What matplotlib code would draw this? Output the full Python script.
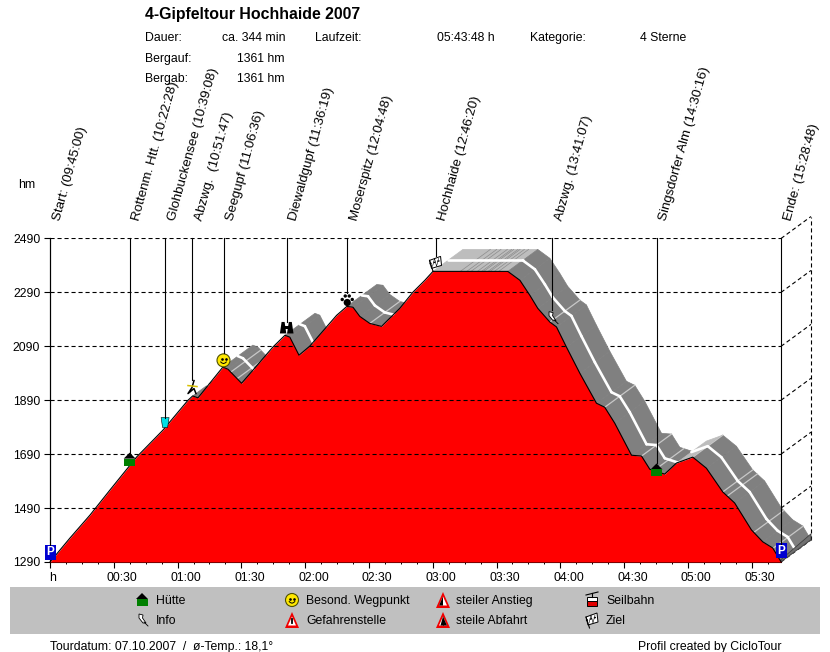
import numpy as np
import matplotlib
matplotlib.use('Agg')
import matplotlib.pyplot as plt
from matplotlib.patches import Polygon, Circle, Rectangle
from matplotlib.transforms import ScaledTranslation

plt.rcParams['font.family'] = ['Liberation Sans', 'DejaVu Sans']

# profile: minutes since start, height in hm
profile_t = [0, 9.4, 18.8, 28.2, 40.8, 53.1, 64.9, 67.1, 69.6, 81.3, 83.7, 90.1, 104.8, 110.5,
             112.8, 117.1, 122.2, 134.8, 139.6, 142.5, 145.7, 150.4, 155.9, 164.5, 170.7, 176.3,
             180.1, 215.3, 221, 225.7, 229.4, 235.1, 238.2, 242.9, 249.2, 257, 260.9, 265.6,
             273.5, 278.2, 282.1, 289.1, 294.6, 302.3, 308.7, 316.4, 322, 329.9, 335.2, 339.9, 343.8]
profile_h = [1290, 1379, 1464, 1557, 1680, 1779, 1890, 1906, 1899, 2013, 2005, 1953, 2087, 2131,
             2124, 2057, 2091, 2205, 2238, 2235, 2201, 2175, 2164, 2231, 2291, 2335,
             2368, 2368, 2335, 2279, 2231, 2180, 2162, 2087, 1990, 1879, 1864, 1805,
             1686, 1683, 1634, 1616, 1657, 1679, 1638, 1550, 1509, 1409, 1365, 1342, 1291]

stations = ['Start: (09:45:00)', 'Rottenm. Htt. (10:22:28)', 'Glohbuckensee (10:39:08)',
            'Abzwg.  (10:51:47)', 'Seegupf (11:06:36)', 'Diewaldgupf (11:36:19)',
            'Moserspitz (12:04:48)', 'Hochhaide (12:46:20)', 'Abzwg. (13:41:07)',
            'Singsdorfer Alm (14:30:16)', 'Ende: (15:28:48)']
station_min = [0, 37.47, 54.13, 66.78, 81.6, 111.32, 139.8, 181.33, 236.12, 285.27, 343.8]
station_icon = ['park', 'hut', 'cup', 'run', 'smile', 'binoc', 'paw', 'flag', 'pin', 'hut', 'park']
icon_lift = [10, 7, 5, 9, 7, 8, 6, 8, 6, 2, 11]

y_ticks = [1290, 1490, 1690, 1890, 2090, 2290, 2490]
x_ticks = list(range(0, 331, 30))
x_labels = ['h', '00:30', '01:00', '01:30', '02:00', '02:30', '03:00', '03:30', '04:00', '04:30', '05:00', '05:30']
cross_t = [85, 88, 150.4, 155.9, 235.1, 260.9, 278.2, 284, 302.3, 316.4, 318.5, 331, 340]
streak_t = [193, 196, 198, 201, 203, 204, 206, 207, 209, 211]

depth_t, depth_h = 14.1, 81.5

t = np.array(profile_t)
h = np.array(profile_h)

fig = plt.figure(figsize=(8.3, 6.52), dpi=100)
ax = fig.add_axes([50/830, 90/652, 731/830, 323.5/652])
ax.set_xlim(0, 343.8)
ax.set_ylim(1290, 2490)
dash = (0, (3.7, 2.6))

ax.set_axisbelow(True)
ax.yaxis.grid(True, color='k', lw=0.8, ls=dash, zorder=1)
for s in ['top', 'right']:
    ax.spines[s].set_visible(False)
ax.spines['left'].set_linewidth(0.8)
ax.spines['bottom'].set_linewidth(0.8)
ax.set_yticks(y_ticks)
ax.set_xticks(x_ticks)
ax.set_xticklabels(x_labels)
ax.set_xticks(np.arange(0, 344, 7.5), minor=True)
ax.tick_params(axis='x', which='major', length=4, width=0.8, labelsize=8.8, pad=3.5)
ax.tick_params(axis='x', which='minor', length=1.5, width=0.7)
ax.tick_params(axis='y', length=4, width=0.8, labelsize=8.8, pad=3)
for lab, shift in zip(ax.get_xticklabels(), [-1] + [-7] * 11):
    lab.set_ha('left')
    lab.set_transform(lab.get_transform() + ScaledTranslation(shift/100, 0, fig.dpi_scale_trans))

# back wall of the 3d box
for y in y_ticks:
    ax.plot([343.8, 343.8 + depth_t], [y, y + depth_h], color='k', lw=0.8, ls=dash, clip_on=False, zorder=1)
ax.plot([343.8 + depth_t]*2, [1290 + depth_h, 2490 + depth_h], color='k', lw=0.8, ls=dash, clip_on=False, zorder=1)

# extruded band behind the profile
for i in range(len(t) - 1):
    dt = t[i+1] - t[i]
    dh = h[i+1] - h[i]
    if dh > 0 and dh / dt > depth_h / depth_t:
        continue
    col = '#808080' if dh < -1 else '#BDBDBD'
    quad = [(t[i], h[i]), (t[i+1], h[i+1]), (t[i+1] + depth_t, h[i+1] + depth_h), (t[i] + depth_t, h[i] + depth_h)]
    ax.add_patch(Polygon(quad, closed=True, fc=col, ec=col, lw=0.5, clip_on=False, zorder=2))
    ax.plot([t[i] + depth_t/2, t[i+1] + depth_t/2], [h[i] + depth_h/2, h[i+1] + depth_h/2],
            color='white', lw=1.9, clip_on=False, zorder=2.3, solid_capstyle='round')

for ct in cross_t:
    ch = np.interp(ct, t, h)
    ax.plot([ct, ct + depth_t], [ch, ch + depth_h], color='#C8C8C8', lw=0.9, clip_on=False, zorder=2.2)
for st in streak_t:
    ax.plot([st, st + depth_t], [2368, 2368 + depth_h], color='#8C8C8C', lw=0.5, clip_on=False, zorder=2.2)

# right end cap
cap = [(343.8, 1291), (343.8 + depth_t, 1291 + depth_h), (343.8 + depth_t, 1291 + depth_h + 22), (343.8, 1291 + 8)]
ax.add_patch(Polygon(cap, closed=True, fc='#707070', ec='#404040', lw=0.6, clip_on=False, zorder=2.4))

red = ax.fill_between(t, h, 1290, color='#FF0000', lw=0, zorder=3)
ax.plot(t, h, color='k', lw=0.8, zorder=3.5, clip_on=False)
grid_red = ax.hlines(y_ticks[1:-1], 0, 343.8, color='k', lw=0.8, ls=dash, zorder=3.4)
clip_poly = Polygon(np.column_stack([np.r_[t, t[-1]], np.r_[h, 1290]]), closed=True, transform=ax.transData)
grid_red.set_clip_path(clip_poly)

# overlay in pixels for icons, legend and texts
ov = fig.add_axes([0, 0, 1, 1], zorder=5)
ov.set_xlim(0, 830)
ov.set_ylim(652, 0)
ov.axis('off')


def to_px(tm, hm):
    x, y = ax.transData.transform((tm, hm))
    return x, 652 - y


def txt(x, y, s, size=8.8, **kw):
    kw.setdefault('va', 'center')
    ov.text(x, y + 1, s, fontsize=size, color='k', **kw)


def poly(pts, fc, ec='none', lw=0.6):
    ov.add_patch(Polygon(pts, closed=True, fc=fc, ec=ec, lw=lw))


def hut(x, y):
    poly([(x-6, y), (x, y-6), (x+6, y)], 'k')
    ov.add_patch(Rectangle((x-5.5, y), 11, 7, fc='#008000', ec='none'))


def park(x, y):
    ov.add_patch(Rectangle((x-5.5, y-7.5), 11, 15, fc='#0000D0', ec='none'))
    ov.text(x, y, 'P', fontsize=8.5, color='white', weight='bold', ha='center', va='center')


def cup(x, y):
    poly([(x-4, y-5), (x+4, y-5), (x+2.5, y+5), (x-2.5, y+5)], '#00E0E8', 'k', 0.4)


def run(x, y):
    ov.plot([x+2, x, x-4, x+2, x+4], [y-7, y, y+6, y+1, y+6], color='k', lw=1.1)
    ov.plot([x-4, x+5], [y-2, y-1], color='#D8C000', lw=1.1)


def smile(x, y):
    ov.add_patch(Circle((x, y), 6.5, fc='#FFE800', ec='#505000', lw=0.8))
    ov.plot([x-2, x+2], [y-1.5, y-1.5], 'k.', ms=1.8)
    ov.plot(x + 4*np.array([-.7, -.4, 0, .4, .7]), y + 4*np.array([.4, .65, .8, .65, .4]), 'k', lw=0.7)


def binoc(x, y):
    for dx in (-3.6, 3.6):
        poly([(x+dx-1.5, y-6), (x+dx+1.5, y-6), (x+dx+3.2, y+5.5), (x+dx-3.2, y+5.5)], 'k')
    poly([(x-3, y-2), (x+3, y-2), (x+3, y+1), (x-3, y+1)], 'k')


def paw(x, y):
    ov.add_patch(Circle((x, y+2), 3.6, fc='k', ec='none'))
    for dx, dy in [(-5, -1), (-2, -4.5), (2, -4.5), (5, -1)]:
        ov.add_patch(Circle((x+dx, y+dy), 1.7, fc='k', ec='none'))


def flag(x, y):
    poly([(x-6, y-3), (x+5, y-7), (x+6, y+2), (x-4, y+5)], 'white', 'k', 0.7)
    ov.plot([x-6, x+5], [y+0.5, y-3], color='k', lw=1, ls=(0, (1.5, 1.5)))
    ov.plot([x-3, x-1, x+1, x+3], [y+3, y-5, y+3, y-5], color='k', lw=0.4)
    ov.plot([x-6, x-2.5], [y-3, y+8], color='k', lw=0.8)


def pin(x, y):
    poly([(x-3, y-6), (x+1, y-5), (x+0.5, y-2), (x+4, y+3), (x+1, y+3), (x-3, y-2)], 'white', 'k', 0.6)
    ov.plot([x+2, x+6], [y+2, y+6], color='k', lw=0.6)


def warn(x, y, kind):
    poly([(x-7, y+8), (x, y-8), (x+7, y+8)], '#F00000', 'none')
    poly([(x-4, y+5.5), (x, y-3.5), (x+4, y+5.5)], 'white', 'none')
    if kind == 'up':
        poly([(x-4, y+5.5), (x, y-3.5), (x, y+5.5)], 'k')
    elif kind == 'down':
        poly([(x, y-3.5), (x+4, y+5.5), (x, y+5.5)], 'k')
        poly([(x-2.5, y+5.5), (x, y-3.5), (x+1, y+5.5)], 'k')
    else:
        ov.plot([x, x], [y-1, y+3], color='k', lw=1.3)


def cable(x, y):
    ov.plot([x-6, x+6], [y-5, y-8], color='k', lw=0.8)
    ov.plot([x, x], [y-7, y-3], color='k', lw=0.8)
    ov.add_patch(Rectangle((x-5, y-3), 10, 4, fc='white', ec='k', lw=0.7))
    ov.add_patch(Rectangle((x-5, y+1), 10, 4.5, fc='#E00000', ec='k', lw=0.7))


icon_draw = {'hut': hut, 'park': park, 'cup': cup, 'run': run, 'smile': smile,
             'binoc': binoc, 'paw': paw, 'flag': flag, 'pin': pin}
icon_top = {'hut': 6, 'park': 7, 'cup': 5, 'run': 8, 'smile': 7, 'binoc': 6, 'paw': 7, 'flag': 7, 'pin': 8}

# stations: leader line, icon, rotated label
top_y = to_px(0, 2490)[1]
for name, tm, ic, lift in zip(stations, station_min, station_icon, icon_lift):
    x, y0 = to_px(tm, np.interp(tm, t, h))
    yc = y0 - lift
    ov.plot([x, x], [top_y, yc - icon_top[ic]], color='k', lw=0.8)
    icon_draw[ic](x, yc)
    ov.text(x + 7, 220, name, fontsize=9.6, rotation=74.5, rotation_mode='anchor', ha='left', va='center')

# header
txt(145, 13, '4-Gipfeltour Hochhaide 2007', size=11.4, weight='bold')
txt(145, 37, 'Dauer:')
txt(285, 37, 'ca. 344 min', ha='right')
txt(315, 37, 'Laufzeit:')
txt(437, 37, '05:43:48 h')
txt(530, 37, 'Kategorie:')
txt(640, 37, '4 Sterne')
txt(145, 58, 'Bergauf:')
txt(285, 58, '1361 hm', ha='right')
txt(145, 78, 'Bergab:')
txt(285, 78, '1361 hm', ha='right')
txt(18, 184, 'hm')

# legend band
ov.add_patch(Rectangle((10, 587), 810, 47, fc='#C0C0C0', ec='none'))
hut(142, 599)
pin(142, 620)
smile(292, 600)
warn(292, 620, 'danger')
warn(443, 600, 'up')
warn(443, 620, 'down')
cable(592, 600)
flag(592, 620)
for x, y, s in [(156, 600, 'Hütte'), (156, 620, 'Info'), (306, 600, 'Besond. Wegpunkt'),
                (306, 620, 'Gefahrenstelle'), (456, 600, 'steiler Anstieg'), (456, 620, 'steile Abfahrt'),
                (606, 600, 'Seilbahn'), (606, 620, 'Ziel')]:
    txt(x, y, s)

# footer
txt(50, 646, 'Tourdatum: 07.10.2007  /  ø-Temp.: 18,1°')
txt(781, 646, 'Profil created by CicloTour', ha='right')

fig.savefig('out.png', dpi=100, facecolor='white')
